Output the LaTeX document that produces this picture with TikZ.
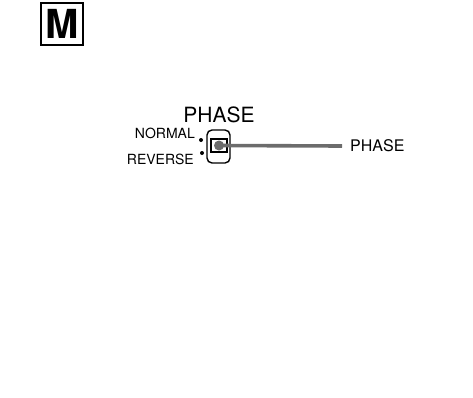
\documentclass[tikz,border=0pt]{standalone}
\usepackage{fontspec}
\setmainfont{TeX Gyre Heros}
\begin{document}
\begin{tikzpicture}[x=1pt, y=-1pt, every node/.style={inner sep=0pt}]
	\useasboundingbox (0, 0) rectangle (473, 397);

	\node[draw, line width=1.8pt, minimum size=42pt, font=\bfseries\fontsize{40}{40}\selectfont] at (62, 24) (M) {M};

	\node[anchor=base, font=\fontsize{21}{21}\selectfont] at (219, 122) (TITLE) {PHASE};
	\node[anchor=base east, font=\fontsize{14}{14}\selectfont] at (195, 138) (NORM) {NORMAL};
	\node[anchor=base east, font=\fontsize{14}{14}\selectfont] at (194, 164) (REV) {REVERSE};
	\node[circle, fill, minimum size=4pt] at (201, 140) (ND) {};
	\node[circle, fill, minimum size=4pt] at (202, 153) (RD) {};

	\node[draw, line width=1.4pt, rounded corners=5pt, minimum width=23pt, minimum height=33pt] at (218.5, 146.5) (SW) {};
	\node[draw, line width=1.2pt, minimum width=16pt, minimum height=13pt] at (219, 145.5) (KNOB) {};
	\node[anchor=west, inner xsep=8pt, font=\fontsize{16}{16}\selectfont] at (342, 146) (LBL) {PHASE};

	\draw[line width=3.6pt, gray!85!black] (KNOB.center) -- (LBL.west);
	\node[circle, fill=gray!85!black, minimum size=10pt] at (KNOB.center) (PIN) {};
\end{tikzpicture}
\end{document}
